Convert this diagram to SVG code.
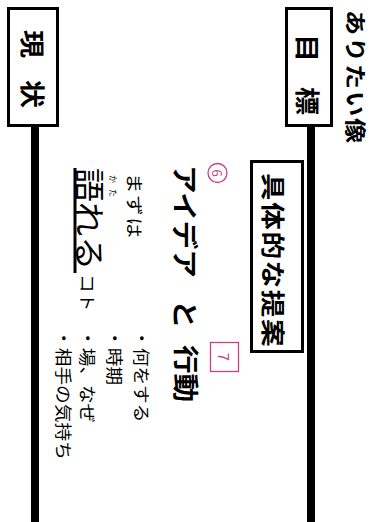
<svg xmlns="http://www.w3.org/2000/svg" width="377" height="522" viewBox="0 0 377 522">
<style>
text { font-family: "Noto Sans CJK JP", "Noto Sans CJK SC", sans-serif; fill: #000; dominant-baseline: central; }
.b { font-weight: bold; }
.box { fill: #fff; stroke: #000; stroke-width: 3; }
.pk { fill: none; stroke: #c8418c; stroke-width: 1.3; }
.pt { fill: #c8418c; }
.bar { stroke: #000; stroke-width: 8; }
</style>
<rect width="377" height="522" fill="#fff"/>
<g id="connectors">
  <line class="bar" x1="311" y1="126" x2="311" y2="522"/>
  <line class="bar" x1="35" y1="126" x2="35" y2="522"/>
</g>
<g id="ideal">
  <text class="b" font-size="21" textLength="111" lengthAdjust="spacing" transform="translate(357.5,10) rotate(90) scale(1.2,1)">ありたい像</text>
</g>
<g id="goal">
  <rect class="box" x="286.5" y="8.5" width="45" height="117"/>
  <text class="b" font-size="25" text-anchor="middle" transform="translate(309,48) rotate(90) scale(1.12,1)">目</text>
  <text class="b" font-size="25" text-anchor="middle" transform="translate(309,101) rotate(90) scale(1.12,1)">標</text>
</g>
<g id="current">
  <rect class="box" x="8.5" y="8.5" width="49" height="117"/>
  <text class="b" font-size="25" text-anchor="middle" transform="translate(34,44) rotate(90) scale(1.12,1)">現</text>
  <text class="b" font-size="25" text-anchor="middle" transform="translate(34,94) rotate(90) scale(1.12,1)">状</text>
</g>
<g id="proposal">
  <rect class="box" x="251.5" y="161.5" width="51" height="190"/>
  <text class="b" font-size="24" textLength="151" lengthAdjust="spacing" transform="translate(275,173) rotate(90) scale(1.15,1)">具体的な提案</text>
</g>
<g id="idea-action">
  <circle class="pk" cx="217.5" cy="173" r="9.5"/>
  <text class="pt" font-size="13" text-anchor="middle" transform="translate(217.5,173) rotate(90)">6</text>
  <text class="b" font-size="26" transform="translate(186,165) rotate(90) scale(1.1,1)">アイデア</text>
  <text class="b" font-size="26" transform="translate(186,300) rotate(90) scale(1.1,1)">と</text>
  <text class="b" font-size="26" transform="translate(187,345) rotate(90) scale(1.1,1)">行動</text>
  <rect class="pk" x="210.5" y="342.5" width="28" height="29"/>
  <text class="pt" font-size="15" text-anchor="middle" transform="translate(224.5,357) rotate(90)">7</text>
</g>
<g id="talk">
  <text font-size="17" textLength="54" lengthAdjust="spacing" transform="translate(135.5,173) rotate(90) scale(1.2,1)">まずは</text>
  <text font-size="8" textLength="22" lengthAdjust="spacing" transform="translate(113.5,175) rotate(90)">かた</text>
  <text font-size="31" transform="translate(92,168) rotate(90) scale(1.1,1)">語れる</text>
  <line x1="75" y1="168" x2="75" y2="273" stroke="#000" stroke-width="3"/>
  <text font-size="17" transform="translate(88.5,274) rotate(90) scale(1.1,1)">コト</text>
</g>
<g id="list">
  <text font-size="17" transform="translate(142.5,329) rotate(90) scale(1.1,1)">・何をする</text>
  <text font-size="17" transform="translate(115.5,329) rotate(90) scale(1.1,1)">・時期</text>
  <text font-size="17" transform="translate(89,329) rotate(90) scale(1.1,1)">・場、なぜ</text>
  <text font-size="17" transform="translate(64.5,329) rotate(90) scale(1.1,1)">・相手の気持ち</text>
</g>
</svg>
